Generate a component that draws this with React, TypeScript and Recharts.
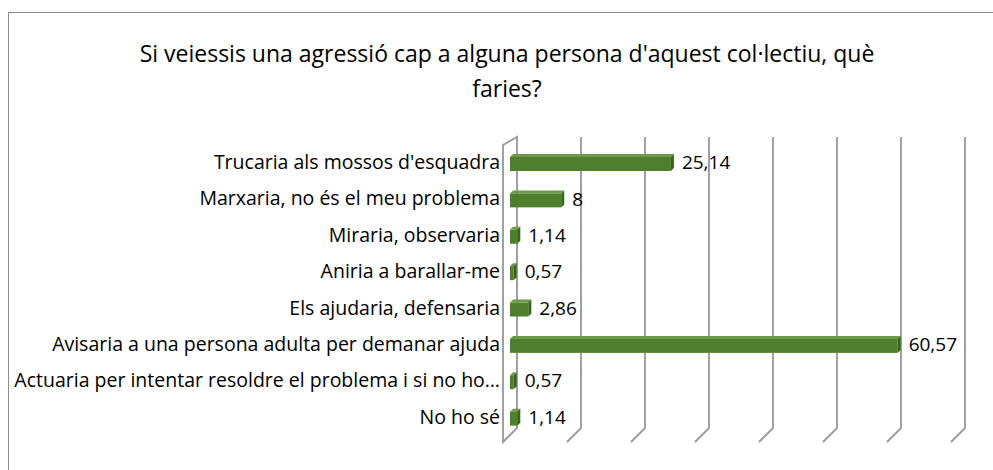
import { Bar, BarChart, CartesianGrid, LabelList, XAxis, YAxis } from 'recharts';

const CATEGORIES = [
  "Trucaria als mossos d'esquadra",
  'Marxaria, no és el meu problema',
  'Miraria, observaria ',
  'Aniria a barallar-me',
  'Els ajudaria, defensaria',
  'Avisaria a una persona adulta per demanar ajuda',
  'Actuaria per intentar resoldre el problema i si no ho…',
  'No ho sé',
];

const VALUES = [25.14, 8, 1.14, 0.57, 2.86, 60.57, 0.57, 1.14];

const X_TICKS = [0, 10, 20, 30, 40, 50, 60, 70];

const FONT = '"Open Sans", Lato, sans-serif';
const DEPTH = 7;

const data = CATEGORIES.map((name, i) => ({ name, value: VALUES[i] }));

// back wall lines with a slant to the floor in front
const GridLine = (props: any) => {
  const { x1, y1, y2, index } = props;
  if (index === 0) {
    return (
      <polygon
        key={props.key}
        points={`${x1 + DEPTH},${y1 - DEPTH} ${x1 + DEPTH},${y2 - DEPTH} ${x1 - DEPTH},${y2 + DEPTH} ${x1 - DEPTH},${y1 + 1}`}
        fill='none'
        stroke='#a0a0a0'
        strokeWidth={2}
      />
    );
  }
  return (
    <polyline
      key={props.key}
      points={`${x1 + DEPTH},${y1 - DEPTH} ${x1 + DEPTH},${y2 - DEPTH} ${x1 - DEPTH},${y2 + DEPTH}`}
      fill='none'
      stroke='#a0a0a0'
      strokeWidth={2}
    />
  );
};

const Bar3D = (props: any) => {
  const { x, y, width, height } = props;
  const d = 3;
  return (
    <g>
      <rect x={x} y={y + d} width={width} height={height - d} fill='#4f7f2c' />
      <polygon
        points={`${x},${y + d} ${x + d},${y} ${x + width + d},${y} ${x + width},${y + d}`}
        fill='#6b9a48'
      />
      <polygon
        points={`${x + width},${y + d} ${x + width + d},${y} ${x + width + d},${y + height - d} ${x + width},${y + height}`}
        fill='#3a6120'
      />
    </g>
  );
};

const App = (): JSX.Element => {
  return (
    <div style={{ position: 'relative', width: 993, height: 470, overflow: 'hidden' }}>
      <style>{'body{margin:0;overflow:hidden}'}</style>
      <div
        style={{
          position: 'absolute',
          left: 8,
          top: 12,
          width: 1000,
          height: 500,
          border: '1px solid #8c8c8c',
        }}
      />
      <div
        style={{
          position: 'absolute',
          left: 0,
          top: 36,
          width: 1014,
          textAlign: 'center',
          fontFamily: FONT,
          fontSize: 23,
          lineHeight: '35px',
          color: '#000',
        }}
      >
        Si veiessis una agressió cap a alguna persona d'aquest col·lectiu, què
        <br />
        faries?
      </div>
      <div style={{ position: 'absolute', left: 0, top: 0 }}>
        <BarChart
          width={993}
          height={470}
          layout='vertical'
          data={data}
          margin={{ top: 144, right: 35, bottom: 35, left: 0 }}
        >
          <CartesianGrid horizontal={false} vertical={GridLine} />
          <XAxis type='number' domain={[0, 70]} ticks={X_TICKS} hide />
          <YAxis
            type='category'
            dataKey='name'
            width={510}
            axisLine={false}
            tickLine={false}
            tickMargin={4}
            interval={0}
            tick={{ fontFamily: FONT, fontSize: 19.5, fill: '#000' }}
          />
          <Bar dataKey='value' barSize={17} shape={Bar3D} isAnimationActive={false}>
            <LabelList
              dataKey='value'
              position='right'
              offset={11}
              formatter={(v: any) => String(v).replace('.', ',')}
              style={{ fontFamily: FONT, fontSize: 19, fill: '#000' }}
            />
          </Bar>
        </BarChart>
      </div>
    </div>
  );
};

export default App;
